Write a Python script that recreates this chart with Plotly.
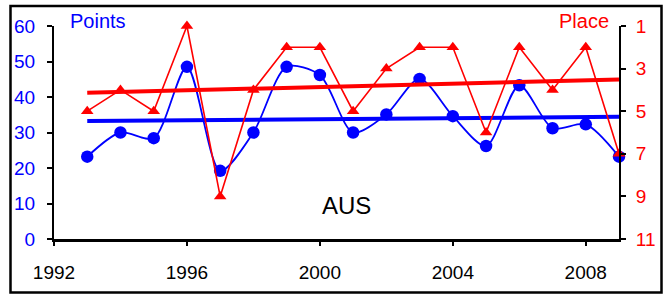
import numpy as np
import plotly.graph_objects as go

years = list(range(1993, 2010))
points = [23.2, 30.0, 28.4, 48.5, 19.2, 30.0, 48.5, 46.2, 30.0, 35.1, 45.1, 34.6, 26.2, 43.3, 31.2, 32.3, 23.2]
places = [5, 4, 5, 1, 9, 4, 2, 2, 5, 3, 2, 2, 6, 2, 4, 2, 7]
x_ticks = [1992, 1996, 2000, 2004, 2008]
left_ticks = [0, 10, 20, 30, 40, 50, 60]
right_ticks = [1, 3, 5, 7, 9, 11]

BLUE = "#0000FF"
RED = "#FF0000"
FONT = "Liberation Sans, Arial, sans-serif"

# linear trend lines (like Excel trendlines)
xa = np.array(years, dtype=float)
pb = np.polyfit(xa, np.array(points), 1)
pr = np.polyfit(xa, np.array(places, dtype=float), 1)
trend_x = [years[0], years[-1]]
trend_pts = [float(np.polyval(pb, v)) for v in trend_x]
trend_pl = [float(np.polyval(pr, v)) for v in trend_x]

fig = go.Figure()
fig.add_trace(go.Scatter(x=years, y=points, mode="lines+markers",
                         line=dict(color=BLUE, width=1.8, shape="spline", smoothing=0.8),
                         marker=dict(color=BLUE, size=12.5, symbol="circle"),
                         cliponaxis=False, showlegend=False))
fig.add_trace(go.Scatter(x=years, y=places, mode="lines+markers", yaxis="y2",
                         line=dict(color=RED, width=1.6),
                         marker=dict(color=RED, size=11, symbol="triangle-up"),
                         cliponaxis=False, showlegend=False))
fig.add_trace(go.Scatter(x=trend_x, y=trend_pts, mode="lines",
                         line=dict(color=BLUE, width=4), showlegend=False))
fig.add_trace(go.Scatter(x=trend_x, y=trend_pl, mode="lines", yaxis="y2",
                         line=dict(color=RED, width=4), showlegend=False))

fig.update_layout(
    width=671, height=296,
    margin=dict(l=54, r=52, t=26, b=57),
    paper_bgcolor="white", plot_bgcolor="white",
    font=dict(family=FONT, size=19, color="black"),
    xaxis=dict(range=[1992, 2009], tickvals=x_ticks, showgrid=False, zeroline=False,
               showline=True, linecolor="black", linewidth=2.5,
               ticks="outside", ticklen=4, tickwidth=1.5, tickcolor="black",
               ticklabelstandoff=10, tickfont=dict(size=19, color="black")),
    yaxis=dict(range=[0, 60], tickvals=left_ticks, showgrid=False, zeroline=False,
               showline=True, linecolor="black", linewidth=2,
               ticks="outside", ticklen=5, tickwidth=1.5, tickcolor="black",
               ticklabelstandoff=8, tickfont=dict(size=19, color=BLUE)),
    yaxis2=dict(range=[11, 1], tickvals=right_ticks, overlaying="y", side="right",
                showgrid=False, zeroline=False,
                showline=True, linecolor="black", linewidth=2,
                ticks="outside", ticklen=5, tickwidth=1.5, tickcolor="black",
                ticklabelstandoff=6, tickfont=dict(size=19, color=RED)),
    annotations=[
        dict(text="Points", x=(98 - 54) / 565, y=(239 - 21) / 213, xref="paper", yref="paper",
             showarrow=False, font=dict(size=20, color=BLUE), xanchor="center", yanchor="middle"),
        dict(text="Place", x=(584 - 54) / 565, y=(239 - 21) / 213, xref="paper", yref="paper",
             showarrow=False, font=dict(size=20, color=RED), xanchor="center", yanchor="middle"),
        dict(text="AUS", x=(346.5 - 54) / 565, y=(239 - 205.5) / 213, xref="paper", yref="paper",
             showarrow=False, font=dict(size=24, color="black"), xanchor="center", yanchor="middle"),
    ],
    shapes=[dict(type="rect", xref="paper", yref="paper",
                 x0=(10.5 - 54) / 565, x1=(661.5 - 54) / 565,
                 y0=(239 - 292.5) / 213, y1=(239 - 6) / 213,
                 line=dict(color="black", width=2.5), layer="above")],
)

fig.write_html("out.html", config={"displayModeBar": False},
               post_script="document.body.style.margin='0';")
